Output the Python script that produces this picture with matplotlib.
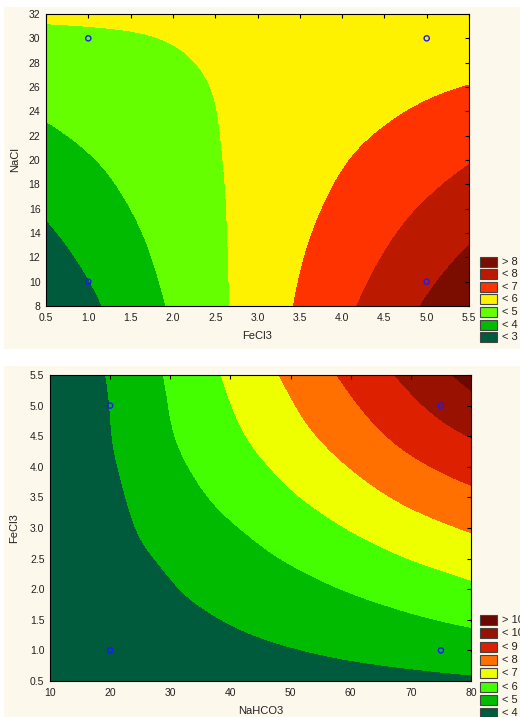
import numpy as np
import matplotlib
matplotlib.use("Agg")
import matplotlib.pyplot as plt
import matplotlib.tri as mtri
from matplotlib.patches import Rectangle

# ---------------- top panel: response over FeCl3 (x) and NaCl (y)
fecl3_top = [0.5, 1.0, 1.5, 2.0, 2.5, 3.0, 3.5, 4.0, 4.5, 5.0, 5.5]
nacl = [8, 12, 16, 20, 24, 28, 32]
z_top = [
    [2.12, 2.78, 3.45, 4.11, 4.78, 5.44, 6.10, 6.77, 7.43, 8.10, 8.76],
    [2.62, 3.17, 3.72, 4.28, 4.83, 5.38, 5.94, 6.49, 7.04, 7.60, 8.15],
    [3.11, 3.56, 4.00, 4.44, 4.88, 5.33, 5.77, 6.21, 6.66, 7.10, 7.54],
    [3.61, 3.94, 4.27, 4.61, 4.94, 5.27, 5.60, 5.94, 6.27, 6.60, 6.94],
    [4.10, 4.33, 4.55, 4.77, 4.99, 5.22, 5.44, 5.66, 5.88, 6.11, 6.33],
    [4.60, 4.71, 4.82, 4.94, 5.05, 5.16, 5.27, 5.38, 5.50, 5.61, 5.72],
    [5.10, 5.10, 5.10, 5.10, 5.10, 5.10, 5.11, 5.11, 5.11, 5.11, 5.11],
]
top_levels = [3, 4, 5, 6, 7, 8]
top_colors = ["#005a3c", "#00bb00", "#66ff00", "#fff200", "#ff3300", "#bb1a00", "#7a0c00"]
top_labels = ["> 8", "< 8", "< 7", "< 6", "< 5", "< 4", "< 3"]
top_pts_x = [1.0, 1.0, 5.0, 5.0]
top_pts_y = [10, 30, 10, 30]
top_xticks = [0.5, 1.0, 1.5, 2.0, 2.5, 3.0, 3.5, 4.0, 4.5, 5.0, 5.5]
top_yticks = [8, 10, 12, 14, 16, 18, 20, 22, 24, 26, 28, 30, 32]

# ---------------- bottom panel: response over NaHCO3 (x) and FeCl3 (y)
nahco3 = [10, 20, 30, 40, 50, 60, 70, 80]
fecl3_bot = [0.5, 1.0, 1.5, 2.0, 2.5, 3.0, 3.5, 4.0, 4.5, 5.0, 5.5]
z_bot = [
    [3.25, 3.34, 3.43, 3.52, 3.60, 3.69, 3.78, 3.87],
    [3.23, 3.41, 3.60, 3.78, 3.96, 4.15, 4.33, 4.52],
    [3.21, 3.49, 3.77, 4.04, 4.32, 4.60, 4.88, 5.16],
    [3.19, 3.56, 3.94, 4.31, 4.68, 5.06, 5.43, 5.81],
    [3.17, 3.64, 4.13, 4.61, 5.08, 5.55, 6.02, 6.45],
    [3.15, 3.72, 4.37, 4.92, 5.48, 6.05, 6.61, 7.10],
    [3.12, 3.80, 4.57, 5.23, 5.89, 6.55, 7.21, 7.74],
    [3.10, 3.89, 4.76, 5.52, 6.27, 7.03, 7.78, 8.39],
    [3.08, 3.97, 4.93, 5.78, 6.63, 7.48, 8.33, 9.03],
    [3.06, 4.01, 5.03, 5.98, 6.92, 7.87, 8.81, 9.68],
    [3.04, 4.08, 5.12, 6.16, 7.20, 8.24, 9.28, 10.32],
]
bot_levels = [4, 5, 6, 7, 8, 9, 10]
bot_colors = ["#005a3c", "#00bb00", "#44ff00", "#eeff00", "#ff7000", "#dd2000", "#991100", "#6b0800"]
bot_labels = ["> 10", "< 10", "< 9", "< 8", "< 7", "< 6", "< 5", "< 4"]
bot_pts_x = [20, 20, 75, 75]
bot_pts_y = [1.0, 5.0, 1.0, 5.0]
bot_xticks = [10, 20, 30, 40, 50, 60, 70, 80]
bot_yticks = [0.5, 1.0, 1.5, 2.0, 2.5, 3.0, 3.5, 4.0, 4.5, 5.0, 5.5]

W, H = 520, 717
plt.rcParams["font.family"] = ["Liberation Sans", "DejaVu Sans"]
fig = plt.figure(figsize=(W / 100, H / 100), dpi=100, facecolor="white")

CREAM = "#fdf8ec"
TXT = "#222222"


def px_rect(x, y, w, h, **kw):
    return Rectangle((x / W, 1 - (y + h) / H), w / W, h / H,
                     transform=fig.transFigure, **kw)


# cream panels
fig.add_artist(px_rect(4, 7, 516, 342, facecolor=CREAM, edgecolor="none", zorder=-5))
fig.add_artist(px_rect(4, 366, 516, 351, facecolor=CREAM, edgecolor="none", zorder=-5))


def smooth_contour(ax, xs, ys, z, levels, colors):
    z = np.asarray(z, dtype=float)
    ny, nx = z.shape
    I, J = np.meshgrid(np.arange(nx, dtype=float), np.arange(ny, dtype=float))
    tris = []
    for j in range(ny - 1):
        for i in range(nx - 1):
            a = j * nx + i
            b = a + 1
            c = a + nx
            d = c + 1
            tris.append([a, b, d])
            tris.append([a, d, c])
    tri = mtri.Triangulation(I.ravel(), J.ravel(), np.array(tris))
    refiner = mtri.UniformTriRefiner(tri)
    tri_r, z_r = refiner.refine_field(z.ravel(), subdiv=4)
    xr = np.interp(tri_r.x, np.arange(nx), xs)
    yr = np.interp(tri_r.y, np.arange(ny), ys)
    tri_d = mtri.Triangulation(xr, yr, tri_r.triangles)
    full = [-100] + list(levels) + [100]
    ax.tricontourf(tri_d, z_r, levels=full, colors=colors, antialiased=False)


def style_axes(ax, xticks, yticks, xfmt, yfmt):
    ax.set_xlim(xticks[0], xticks[-1])
    ax.set_ylim(yticks[0], yticks[-1])
    ax.set_xticks(xticks)
    ax.set_yticks(yticks)
    ax.set_xticklabels([xfmt.format(v) for v in xticks])
    ax.set_yticklabels([yfmt.format(v) for v in yticks])
    ax.tick_params(axis="both", direction="in", length=3, width=0.8,
                   top=True, right=True, left=False, bottom=False,
                   labelsize=7.5, labelcolor=TXT, colors="black")
    ax.tick_params(axis="x", pad=5)
    ax.tick_params(axis="y", pad=4)
    for s in ax.spines.values():
        s.set_linewidth(0.8)
        s.set_color("black")


def legend(labels, colors, x0, y0, step, tx):
    for k, (lab, col) in enumerate(zip(labels, colors[::-1])):
        y = y0 + k * step
        fig.add_artist(px_rect(x0, y, 17, 10, facecolor=col, edgecolor="#444444",
                               linewidth=0.8, zorder=3))
        fig.text(tx / W, 1 - (y + 5) / H, lab, ha="left", va="center",
                 fontsize=8, color=TXT)


# ---- top axes
ax1 = fig.add_axes([46 / W, 1 - 306 / H, 423 / W, 292 / H])
smooth_contour(ax1, fecl3_top, nacl, z_top, top_levels, top_colors)
ax1.scatter(top_pts_x, top_pts_y, s=14, facecolors="none", edgecolors="#1a1aff",
            linewidths=1.0, zorder=5, clip_on=False)
style_axes(ax1, top_xticks, top_yticks, "{:.1f}", "{:d}")
ax1.set_xlabel("FeCl3", fontsize=8, color=TXT, labelpad=6)
ax1.set_ylabel("NaCl", fontsize=8, color=TXT, labelpad=6)
legend(top_labels, top_colors, 480, 256.7, 12.56, 502)

# ---- bottom axes
ax2 = fig.add_axes([50 / W, 1 - 681 / H, 421 / W, 306 / H])
smooth_contour(ax2, nahco3, fecl3_bot, z_bot, bot_levels, bot_colors)
ax2.scatter(bot_pts_x, bot_pts_y, s=14, facecolors="none", edgecolors="#1a1aff",
            linewidths=1.0, zorder=5, clip_on=False)
style_axes(ax2, bot_xticks, bot_yticks, "{:d}", "{:.1f}")
ax2.set_xlabel("NaHCO3", fontsize=8, color=TXT, labelpad=6)
ax2.set_ylabel("FeCl3", fontsize=8, color=TXT, labelpad=8)
legend(bot_labels, bot_colors, 480, 615, 13.3, 502.5)

fig.savefig("out.png", dpi=100, facecolor="white")
